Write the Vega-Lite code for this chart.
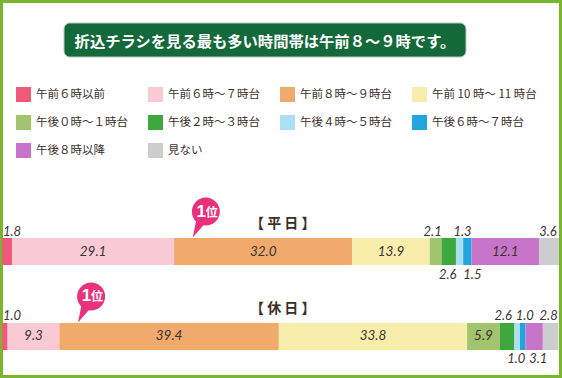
{
  "$schema": "https://vega.github.io/schema/vega-lite/v6.json",
  "width": 562,
  "height": 378,
  "autosize": {"type": "none"},
  "padding": 0,
  "background": "white",
  "config": {
    "view": {"stroke": "#7ab62b", "strokeWidth": 6},
    "font": "Noto Sans CJK JP",
    "text": {"font": "Noto Sans CJK JP"}
  },
  "resolve": {"scale": {"y": "independent"}},
  "layer": [
    {
      "data": {"values": [{"t": "折込チラシを見る最も多い時間帯は午前８～９時です。"}]},
      "layer": [
        {
          "mark": {"type": "rect", "fill": "#13693a", "cornerRadius": 6, "stroke": "#bccabd", "strokeWidth": 1},
          "encoding": {
            "x": {"datum": 11.13, "type": "quantitative", "scale": {"domain": [0, 100], "range": [2, 559], "nice": false, "zero": false}, "axis": null},
            "x2": {"datum": 83.3},
            "y": {"datum": 0, "type": "quantitative", "scale": {"domain": [0, 1], "range": [57, 23], "nice": false, "zero": false}, "axis": null},
            "y2": {"datum": 1}
          }
        },
        {
          "mark": {"type": "text", "color": "white", "fontSize": 15.3, "fontWeight": "bold", "baseline": "middle", "align": "center", "dy": 1.5},
          "encoding": {
            "x": {"datum": 47.2, "type": "quantitative"},
            "y": {"datum": 0.5, "type": "quantitative"},
            "text": {"field": "t"}
          }
        }
      ]
    },
    {
      "data": {"name": "bars", "values": [
        {"day": "平日", "slot": "午前６時以前", "o": 1, "v": 1.8, "pos": "aboveL"},
        {"day": "平日", "slot": "午前６時～７時台", "o": 2, "v": 29.1, "pos": "in"},
        {"day": "平日", "slot": "午前８時～９時台", "o": 3, "v": 32.0, "pos": "in"},
        {"day": "平日", "slot": "午前 10 時～ 11 時台", "o": 4, "v": 13.9, "pos": "in"},
        {"day": "平日", "slot": "午後０時～１時台", "o": 5, "v": 2.1, "pos": "above"},
        {"day": "平日", "slot": "午後２時～３時台", "o": 6, "v": 2.6, "pos": "below"},
        {"day": "平日", "slot": "午後４時～５時台", "o": 7, "v": 1.3, "pos": "above"},
        {"day": "平日", "slot": "午後６時～７時台", "o": 8, "v": 1.5, "pos": "below"},
        {"day": "平日", "slot": "午後８時以降", "o": 9, "v": 12.1, "pos": "in"},
        {"day": "平日", "slot": "見ない", "o": 10, "v": 3.6, "pos": "above"},
        {"day": "休日", "slot": "午前６時以前", "o": 1, "v": 1.0, "pos": "aboveL"},
        {"day": "休日", "slot": "午前６時～７時台", "o": 2, "v": 9.3, "pos": "in"},
        {"day": "休日", "slot": "午前８時～９時台", "o": 3, "v": 39.4, "pos": "in"},
        {"day": "休日", "slot": "午前 10 時～ 11 時台", "o": 4, "v": 33.8, "pos": "in"},
        {"day": "休日", "slot": "午後０時～１時台", "o": 5, "v": 5.9, "pos": "in"},
        {"day": "休日", "slot": "午後２時～３時台", "o": 6, "v": 2.6, "pos": "above"},
        {"day": "休日", "slot": "午後４時～５時台", "o": 7, "v": 1.0, "pos": "below"},
        {"day": "休日", "slot": "午後６時～７時台", "o": 8, "v": 1.0, "pos": "above"},
        {"day": "休日", "slot": "午後８時以降", "o": 9, "v": 3.1, "pos": "below"},
        {"day": "休日", "slot": "見ない", "o": 10, "v": 2.8, "pos": "above"}
      ]},
      "transform": [
        {"stack": "v", "groupby": ["day"], "sort": [{"field": "o", "order": "ascending"}], "as": ["x0", "x1"]},
        {"calculate": "(datum.x0 + datum.x1) / 2", "as": "mid"},
        {"joinaggregate": [{"op": "max", "field": "v", "as": "mx"}], "groupby": ["day"]}
      ],
      "encoding": {
        "y": {"field": "day", "type": "nominal", "scale": {"domain": ["平日", "休日"], "range": [238, 350], "paddingInner": 0.682, "paddingOuter": 0}, "axis": null}
      },
      "layer": [
        {
          "mark": {"type": "bar"},
          "encoding": {
            "x": {"field": "x0", "type": "quantitative"},
            "x2": {"field": "x1"},
            "color": {
              "field": "slot", "type": "nominal",
              "sort": null,
              "scale": {
                "domain": ["午前６時以前", "午前６時～７時台", "午前８時～９時台", "午前 10 時～ 11 時台", "午後０時～１時台", "午後２時～３時台", "午後４時～５時台", "午後６時～７時台", "午後８時以降", "見ない"],
                "range": ["#ef5a7a", "#f9cad6", "#f0aa6c", "#f8eeab", "#a2c46e", "#3ca83e", "#a9e0f6", "#22a4df", "#c874c9", "#cdcdcd"]
              },
              "legend": {
                "orient": "none", "legendX": 16, "legendY": 87, "columns": 4, "direction": "horizontal", "title": null,
                "symbolType": "square", "symbolSize": 225, "symbolStrokeWidth": 0, "symbolOpacity": 1,
                "labelFontSize": 11.5, "labelFont": "Noto Sans CJK JP", "labelColor": "#3b2f2a",
                "rowPadding": 13, "columnPadding": 7, "gridAlign": "all", "labelOffset": 5, "padding": 0, "labelLimit": 200
              }
            },
            "order": {"field": "o"}
          }
        },
        {
          "transform": [{"filter": "datum.pos == 'in'"}],
          "mark": {"type": "text", "fontSize": 13.5, "font": "Lato", "fontStyle": "italic", "color": "#3c3232", "baseline": "middle", "align": "center"},
          "encoding": {"x": {"field": "mid", "type": "quantitative"}, "text": {"field": "v", "format": ".1f"}}
        },
        {
          "transform": [{"filter": "datum.pos == 'above'"}],
          "mark": {"type": "text", "fontSize": 13, "font": "Lato", "fontStyle": "italic", "color": "#3c3232", "baseline": "alphabetic", "align": "center", "dy": -16,
                   "dx": {"expr": "({'平日5': -3, '平日7': 3, '平日10': -1, '休日6': -4, '休日8': 2, '休日10': -2})[datum.day + datum.o] || 0"}},
          "encoding": {"x": {"field": "mid", "type": "quantitative"}, "text": {"field": "v", "format": ".1f"}}
        },
        {
          "transform": [{"filter": "datum.pos == 'aboveL'"}],
          "mark": {"type": "text", "fontSize": 13, "font": "Lato", "fontStyle": "italic", "color": "#3c3232", "baseline": "alphabetic", "align": "left", "dy": -16, "dx": 1},
          "encoding": {"x": {"field": "x0", "type": "quantitative"}, "text": {"field": "v", "format": ".1f"}}
        },
        {
          "transform": [{"filter": "datum.pos == 'below'"}],
          "mark": {"type": "text", "fontSize": 13, "font": "Lato", "fontStyle": "italic", "color": "#3c3232", "baseline": "alphabetic", "align": "center", "dy": 27,
                   "dx": {"expr": "({'平日6': -1, '平日8': 5, '休日7': -1, '休日9': 4})[datum.day + datum.o] || 0"}},
          "encoding": {"x": {"field": "mid", "type": "quantitative"}, "text": {"field": "v", "format": ".1f"}}
        },
        {
          "transform": [{"filter": "datum.o == 1"}, {"calculate": "'【 ' + substring(datum.day, 0, 1) + ' ' + substring(datum.day, 1, 2) + ' 】'", "as": "lab"}],
          "mark": {"type": "text", "fontSize": 14, "fontWeight": "bold", "color": "#3a2e25", "baseline": "middle", "align": "center", "dy": -27.5},
          "encoding": {"x": {"datum": 50.4, "type": "quantitative"}, "text": {"field": "lab"}}
        },
        {
          "transform": [{"filter": "datum.v == datum.mx"}],
          "mark": {"type": "point", "filled": true, "fill": "#e9327b", "opacity": 1, "strokeWidth": 0, "size": 2178,
                   "shape": "M -0.324 0.074 A 0.6 0.6 0 1 1 -0.004 0.241 L -0.46 0.76 Z",
                   "xOffset": 29.4, "yOffset": -31.8},
          "encoding": {"x": {"field": "x0", "type": "quantitative"}}
        },
        {
          "transform": [{"filter": "datum.v == datum.mx"}, {"calculate": "'1'", "as": "one"}],
          "mark": {"type": "text", "fontSize": 17, "fontWeight": "bold", "color": "white", "baseline": "middle", "align": "center", "font": "Liberation Sans", "xOffset": 27.2, "yOffset": -40},
          "encoding": {"x": {"field": "x0", "type": "quantitative"}, "text": {"field": "one"}}
        },
        {
          "transform": [{"filter": "datum.v == datum.mx"}, {"calculate": "'位'", "as": "rank"}],
          "mark": {"type": "text", "fontSize": 12, "fontWeight": "bold", "color": "white", "baseline": "middle", "align": "center", "xOffset": 37.7, "yOffset": -39},
          "encoding": {"x": {"field": "x0", "type": "quantitative"}, "text": {"field": "rank"}}
        }
      ]
    }
  ]
}
